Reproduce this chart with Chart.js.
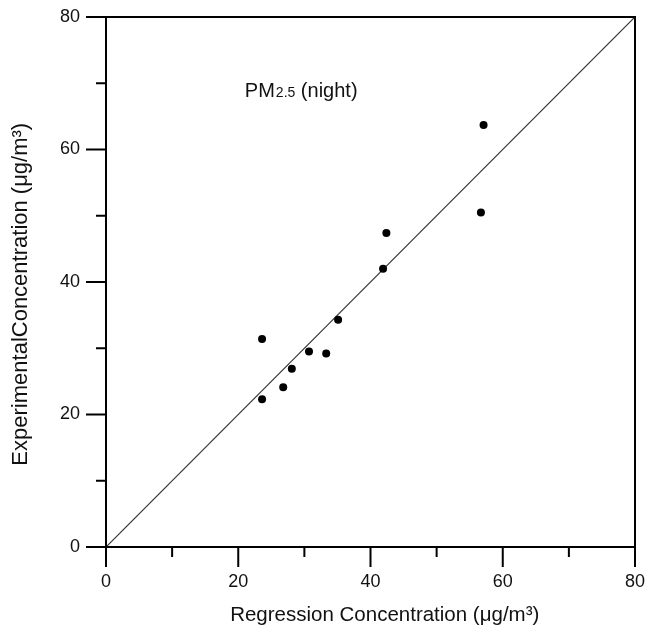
<!DOCTYPE html>
<html>
<head>
<meta charset="utf-8">
<script src="https://cdn.jsdelivr.net/npm/chart.js@4.4.1/dist/chart.umd.min.js"></script>
<style>
html, body { margin:0; padding:0; background:#fff; }
#wrap { width:649px; height:630px; }
</style>
</head>
<body>
<div id="wrap"><canvas id="c"></canvas></div>
<script>
// PM2.5 (night): regression vs experimental concentration

var regression   = [23.6, 23.6, 26.8, 28.1, 30.7, 33.3, 35.1, 41.9, 42.4, 56.7, 57.1];
var experimental = [31.4, 22.3, 24.1, 26.9, 29.5, 29.2, 34.3, 42.0, 47.4, 50.5, 63.7];
var lineX        = [0, 80];
var lineY        = [0, 80];
var axisTicks    = [0, 10, 20, 30, 40, 50, 60, 70, 80];

var FONT = '"Liberation Sans", Arial, Helvetica, sans-serif';
var NB = '\u00a0\u00a0\u00a0\u00a0';

var points = regression.map(function(x, i) { return { x:x, y:experimental[i] }; });
var diag   = lineX.map(function(x, i) { return { x:x, y:lineY[i] }; });

// frame + tick marks (long on labelled ticks, short between)
var framePlugin = {
  id: 'frame',
  afterDraw: function(chart) {
    var ctx = chart.ctx, a = chart.chartArea;
    var xs = chart.scales.x, ys = chart.scales.y;
    ctx.save();
    ctx.strokeStyle = '#000';
    ctx.lineWidth = 2;
    ctx.strokeRect(a.left, a.top, a.right - a.left, a.bottom - a.top);
    ctx.beginPath();
    axisTicks.forEach(function(v) {
      var len = v % 20 === 0 ? 20 : 10;
      var px = xs.getPixelForValue(v);
      ctx.moveTo(px, a.bottom); ctx.lineTo(px, a.bottom + len);
      var py = ys.getPixelForValue(v);
      ctx.moveTo(a.left - len, py); ctx.lineTo(a.left, py);
    });
    ctx.stroke();

    // "PM 2.5 (night)"
    var tx = xs.getPixelForValue(21), ty = ys.getPixelForValue(68);
    ctx.fillStyle = '#111';
    ctx.textBaseline = 'alphabetic';
    ctx.font = '20px ' + FONT;
    ctx.fillText('PM', tx, ty);
    ctx.font = '14px ' + FONT;
    ctx.fillText('2.5', tx + 31, ty);
    ctx.font = '20px ' + FONT;
    ctx.fillText('(night)', tx + 56, ty);
    ctx.restore();
  }
};

new Chart(document.getElementById('c').getContext('2d'), {
  data: {
    datasets: [
      {
        type: 'scatter',
        data: points,
        pointRadius: 4,
        pointHoverRadius: 4,
        pointBackgroundColor: '#000',
        pointBorderWidth: 0
      },
      {
        type: 'line',
        data: diag,
        borderColor: '#333',
        borderWidth: 1.2,
        pointRadius: 0,
        fill: false,
        tension: 0
      }
    ]
  },
  options: {
    responsive: true, maintainAspectRatio: false,
    animation: false,
    layout: { padding: { top:17, right:14, left:0, bottom:0 } },
    plugins: { legend: { display:false }, tooltip: { enabled:false } },
    scales: {
      x: {
        type: 'linear', min: 0, max: 80,
        grid: { display:false, drawTicks:false },
        border: { display:false },
        ticks: {
          stepSize: 10, autoSkip: false, maxRotation: 0, padding: 24,
          color: '#111', font: { family: FONT, size: 18 },
          callback: function(v) { return v % 20 === 0 ? v : ''; }
        },
        title: {
          display: true, text: NB + '\u00a0Regression Concentration (\u03bcg/m\u00b3)',
          color: '#111', font: { family: FONT, size: 20.5 },
          padding: { top:0, bottom:2 }
        },
        afterFit: function(s) { s.height = 83; s.paddingLeft = 0; s.paddingRight = 0; }
      },
      y: {
        type: 'linear', min: 0, max: 80,
        grid: { display:false, drawTicks:false },
        border: { display:false },
        ticks: {
          stepSize: 10, autoSkip: false, padding: 26,
          color: '#111', font: { family: FONT, size: 18 },
          callback: function(v) { return v % 20 === 0 ? v : ''; }
        },
        title: {
          display: true, text: 'ExperimentalConcentration (\u03bcg/m\u00b3)' + NB,
          color: '#111', font: { family: FONT, size: 22 },
          padding: { top:8, bottom:0 }
        },
        afterFit: function(s) { s.width = 106; s.paddingTop = 0; s.paddingBottom = 0; }
      }
    }
  },
  plugins: [framePlugin]
});
</script>
</body>
</html>
